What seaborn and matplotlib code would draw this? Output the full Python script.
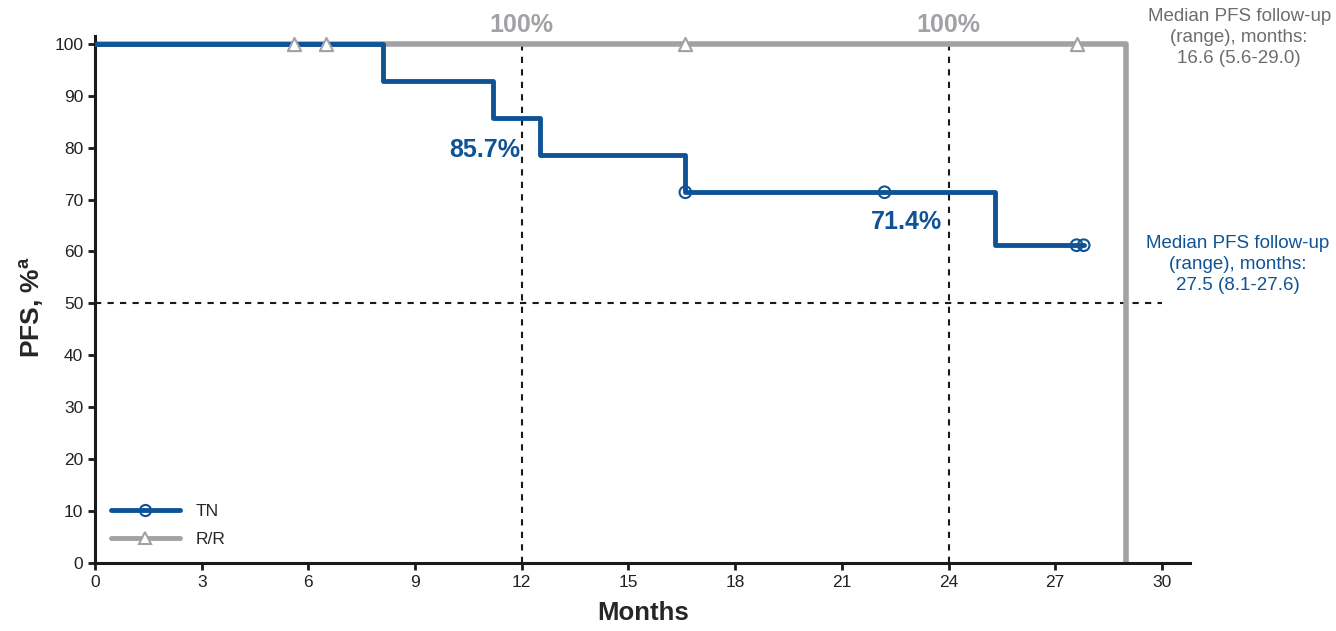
import matplotlib
matplotlib.use("Agg")
import matplotlib.pyplot as plt
from matplotlib.lines import Line2D
import seaborn as sns
import pandas as pd

# Kaplan-Meier step data (months, PFS %)
tn_time = [0, 8.1, 11.2, 12.5, 16.6, 25.3, 27.8]
tn_pfs = [100, 92.9, 85.7, 78.6, 71.4, 61.2, 61.2]
tn_censor_time = [16.6, 22.2, 27.6, 27.8]
tn_censor_pfs = [71.4, 71.4, 61.2, 61.2]

rr_time = [0, 29.0, 29.0]
rr_pfs = [100, 100, 0]
rr_censor_time = [5.6, 6.5, 16.6, 27.6]
rr_censor_pfs = [100, 100, 100, 100]

landmark_months = [12, 24]
rr_landmark_labels = ["100%", "100%"]
tn_landmark_labels = ["85.7%", "71.4%"]
tn_landmark_values = [85.7, 71.4]

x_ticks = [0, 3, 6, 9, 12, 15, 18, 21, 24, 27, 30]
y_ticks = [0, 10, 20, 30, 40, 50, 60, 70, 80, 90, 100]

BLUE = "#0f5396"
GREY = "#a2a2a6"

sns.set_style("ticks")
plt.rcParams["font.family"] = ["Liberation Sans", "DejaVu Sans"]

fig = plt.figure(figsize=(13.36, 6.31), dpi=100)
ax = fig.add_axes([0.0711, 0.1078, 0.8199, 0.8352])

# reference lines
for m in landmark_months:
    ax.plot([m, m], [0, 100], ls=(0, (3, 3)), color="#1a1a1a", lw=1.5, zorder=1)
ax.plot([0, 30], [50, 50], ls=(0, (3, 3)), color="#1a1a1a", lw=1.5, zorder=1)

rr_df = pd.DataFrame({"Months": rr_time, "PFS": rr_pfs})
tn_df = pd.DataFrame({"Months": tn_time, "PFS": tn_pfs})

sns.lineplot(data=rr_df, x="Months", y="PFS", drawstyle="steps-post",
             estimator=None, color=GREY, lw=4, ax=ax, sort=False, zorder=2)
sns.lineplot(data=tn_df, x="Months", y="PFS", drawstyle="steps-post",
             estimator=None, color=BLUE, lw=3.5, ax=ax, sort=False, zorder=3)

ax.scatter(rr_censor_time, rr_censor_pfs, marker="^", s=90, facecolors="white",
           edgecolors=GREY, linewidths=1.5, zorder=4)
ax.scatter(tn_censor_time, tn_censor_pfs, marker="o", s=70, facecolors="none",
           edgecolors=BLUE, linewidths=1.5, zorder=4)

# landmark annotations
for m, lab in zip(landmark_months, rr_landmark_labels):
    ax.text(m, 103.7, lab, color=GREY, fontsize=18, fontweight="bold",
            ha="center", va="center", clip_on=False)
ax.text(11.95, 79.6, tn_landmark_labels[0],
        color=BLUE, fontsize=18, fontweight="bold", ha="right", va="center")
ax.text(22.83, 65.7, tn_landmark_labels[1],
        color=BLUE, fontsize=18, fontweight="bold", ha="center", va="center")

# follow-up notes
fig.text(0.9275, 0.988, "Median PFS follow-up\n(range), months:\n16.6 (5.6-29.0)",
         color="#6d6d70", fontsize=13.5, ha="center", va="top", linespacing=1.33)
fig.text(0.9265, 0.628, "Median PFS follow-up\n(range), months:\n27.5 (8.1-27.6)",
         color=BLUE, fontsize=13.5, ha="center", va="top", linespacing=1.33)

ax.set_xlim(0, 30.8)
ax.set_ylim(0, 101.5)
ax.set_xticks(x_ticks)
ax.set_yticks(y_ticks)
ax.tick_params(axis="both", direction="out", length=5, width=2, color="#1a1a1a",
               labelsize=12.5, labelcolor="#222222")
for side in ["left", "bottom"]:
    ax.spines[side].set_linewidth(2.2)
    ax.spines[side].set_color("#1a1a1a")
sns.despine(ax=ax)

ax.set_xlabel("Months", fontsize=18.5, fontweight="bold", labelpad=8)
ax.set_ylabel("PFS, %$^{\\mathregular{a}}$", fontsize=19, fontweight="bold")
ax.yaxis.set_label_coords(-0.045, 0.485)

handles = [
    Line2D([0], [0], color=BLUE, lw=3.5, marker="o", markersize=8,
           markerfacecolor="none", markeredgecolor=BLUE, markeredgewidth=1.5),
    Line2D([0], [0], color=GREY, lw=3.5, marker="^", markersize=9,
           markerfacecolor="white", markeredgecolor=GREY, markeredgewidth=1.5),
]
ax.legend(handles, ["TN", "R/R"], loc="lower left", bbox_to_anchor=(0.0, 0.0),
          frameon=False, fontsize=12.5, handlelength=4.0, labelspacing=0.75,
          handletextpad=0.9)

fig.savefig("out.png", dpi=100)
